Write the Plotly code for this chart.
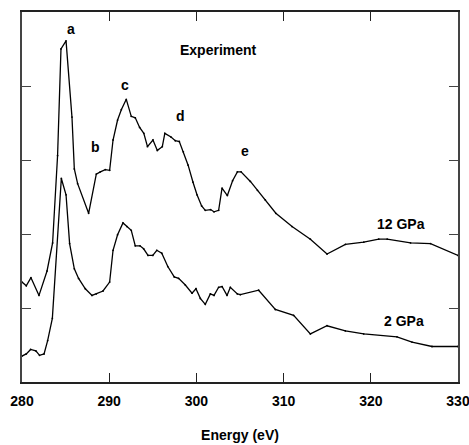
import plotly.graph_objects as go

# 12 GPa spectrum (energy in eV, intensity in arbitrary units)
e_12 = [280.0, 280.49, 281.03, 281.95, 282.87, 283.51, 284.08, 284.47, 285.05, 285.73,
        286.00, 286.38, 287.64, 288.52, 288.98, 289.55, 290.05, 290.44, 290.96, 291.39,
        291.96, 292.53, 292.99, 293.49, 293.97, 294.39, 295.02, 295.52, 296.09, 296.38,
        297.09, 297.58, 298.04, 298.50, 299.05, 299.61, 300.07, 300.60, 301.02, 301.63,
        302.02, 302.55, 302.94, 303.55, 304.15, 304.70, 305.12, 306.19, 307.0, 307.9,
        309.11, 310.97, 313.07, 314.98, 317.09, 319.19, 320.91, 321.88, 324.56, 326.85,
        330.0]
i_12 = [1.35, 1.30, 1.41, 1.17, 1.50, 1.88, 3.06, 4.50, 4.61, 3.58,
        2.88, 2.68, 2.28, 2.81, 2.84, 2.87, 2.86, 3.27, 3.54, 3.68,
        3.82, 3.59, 3.57, 3.44, 3.36, 3.18, 3.27, 3.13, 3.18, 3.36,
        3.31, 3.26, 3.25, 3.11, 2.93, 2.70, 2.53, 2.38, 2.32, 2.33,
        2.30, 2.32, 2.62, 2.52, 2.72, 2.84, 2.84, 2.71, 2.59, 2.46,
        2.28, 2.10, 1.93, 1.73, 1.86, 1.89, 1.93, 1.93, 1.88, 1.87,
        1.71]

# 2 GPa spectrum
e_2 = [280.0, 280.49, 280.99, 281.59, 282.01, 282.53, 282.94, 283.48, 284.51, 285.05,
       285.46, 286.00, 286.49, 287.26, 288.03, 288.52, 289.29, 290.05, 290.44, 290.96,
       291.58, 292.04, 292.53, 292.99, 293.53, 293.95, 294.45, 295.00, 295.46, 296.03,
       296.72, 297.46, 297.96, 298.73, 299.50, 299.95, 300.45, 301.02, 301.60, 302.02,
       302.55, 302.94, 303.51, 303.89, 304.70, 305.04, 307.14, 309.05, 311.15, 313.07,
       314.98, 317.09, 319.19, 323.0, 324.73, 327.02, 330.0]
i_2 = [0.35, 0.38, 0.44, 0.42, 0.36, 0.38, 0.56, 0.86, 2.75, 2.53,
       1.87, 1.53, 1.40, 1.26, 1.17, 1.19, 1.23, 1.35, 1.78, 1.99,
       2.15, 2.10, 2.05, 1.84, 1.84, 1.80, 1.71, 1.71, 1.78, 1.74,
       1.56, 1.42, 1.40, 1.31, 1.20, 1.26, 1.13, 1.05, 1.19, 1.17,
       1.28, 1.29, 1.17, 1.28, 1.19, 1.18, 1.24, 0.98, 0.90, 0.65,
       0.76, 0.69, 0.65, 0.61, 0.54, 0.48, 0.48]

# peak labels
peak_labels = ["a", "b", "c", "d", "e"]
peak_x = [285.6, 288.4, 291.8, 298.2, 305.6]
peak_y = [4.77, 3.18, 4.01, 3.59, 3.12]

series_labels = ["12 GPa", "2 GPa"]
series_lx = [323.5, 323.8]
series_ly = [2.13, 0.83]

x_ticks = [280, 290, 300, 310, 320, 330]

FONT = "Liberation Sans, Arial, sans-serif"

fig = go.Figure()
for xs, ys, name in [(e_12, i_12, "12 GPa"), (e_2, i_2, "2 GPa")]:
    fig.add_trace(go.Scatter(
        x=xs, y=ys, mode="lines+markers", name=name,
        line=dict(color="black", width=1.3),
        marker=dict(color="black", size=1.8),
        showlegend=False, hoverinfo="skip"))

for t, x, y in zip(peak_labels, peak_x, peak_y):
    fig.add_annotation(x=x, y=y, xref="x", yref="y", text="<b>%s</b>" % t,
                       showarrow=False, font=dict(size=14, color="black", family=FONT))
for t, x, y in zip(series_labels, series_lx, series_ly):
    fig.add_annotation(x=x, y=y, xref="x", yref="y", text="<b>%s</b>" % t,
                       showarrow=False, font=dict(size=14, color="black", family=FONT))
fig.add_annotation(x=0.45, y=0.925, xref="paper", yref="paper", text="<b>Experiment</b>",
                   showarrow=False, font=dict(size=14, color="black", family=FONT))

fig.update_layout(
    width=469, height=445,
    margin=dict(l=22, r=11, t=12, b=63),
    paper_bgcolor="white", plot_bgcolor="white",
    font=dict(family=FONT, size=14, color="black"),
)
fig.update_xaxes(
    range=[280, 330], tickvals=x_ticks, ticktext=["<b>%d</b>" % v for v in x_ticks],
    ticks="inside", ticklen=9, tickwidth=1.3, tickcolor="#222",
    showline=True, linecolor="#222", linewidth=2, mirror="ticks",
    showgrid=False, zeroline=False, ticklabelstandoff=5, automargin=False,
    ticklabeloverflow="allow",
    title=dict(text="<b>Energy (eV)</b>", font=dict(size=14, family=FONT), standoff=22),
)
fig.update_yaxes(
    range=[0, 5], dtick=1, tick0=0, showticklabels=False, automargin=False,
    ticks="inside", ticklen=9, tickwidth=1.3, tickcolor="#444",
    showline=True, linecolor="#444", linewidth=1.5, mirror="ticks",
    showgrid=False, zeroline=False,
)

fig.write_html("out.html")
